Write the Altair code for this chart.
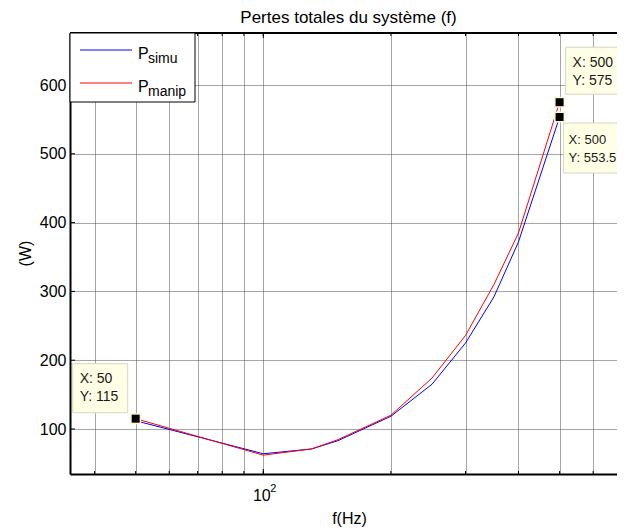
import altair as alt
import pandas as pd

# ---- data ----
freq = [50, 100, 130, 150, 200, 250, 300, 350, 400, 500]
p_simu = [112, 64, 71, 83, 118.5, 165, 225, 292, 372, 553.5]
p_manip = [115, 62, 71, 84.5, 120, 174, 236, 310, 385, 575]

x_ticks = [40, 50, 60, 70, 80, 90, 100, 200, 300, 400, 500, 600]
x_major = [100]
y_ticks = [100, 200, 300, 400, 500, 600]

tip_x = [50, 500, 500]
tip_y = [115, 575, 553.5]
tip_l1 = ["X: 50", "X: 500", "X: 500"]
tip_l2 = ["Y: 115", "Y: 575", "Y: 553.5"]

legend_main = ["P", "P"]
legend_sub = ["simu", "manip"]
legend_col = ["#0000ff", "#ff0000"]

title_txt = "Pertes totales du système (f)"
x_title = "f(Hz)"
y_title = "(W)"

W, H = 547, 441
FONT = "Liberation Sans"

xs = alt.Scale(type="log", domain=[35, 683], nice=False)
ys = alt.Scale(domain=[34.6, 675.6], nice=False, zero=False)

GRID = dict(grid=True, gridColor="#4d4d4d", gridDash=[1, 1], gridWidth=1)

x_axis = alt.Axis(values=x_ticks, labelExpr="datum.value == 100 ? '10' : ''",
                  ticks=False, domainColor="black", domainWidth=2,
                  labelFont=FONT, labelFontSize=16, labelColor="black",
                  labelPadding=13, labelOffset=-2, labelOverlap=False, labelFlush=False,
                  title=x_title, titleFont=FONT, titleFontSize=16,
                  titleFontWeight="normal", titleColor="black",
                  titleX=279, titleY=44, titleBaseline="middle", titleAlign="center",
                  **GRID)
y_axis = alt.Axis(values=y_ticks, ticks=False, domainColor="black", domainWidth=2,
                  labelFont=FONT, labelFontSize=16, labelColor="black",
                  labelPadding=4, labelFlush=False,
                  title=y_title, titleFont=FONT, titleFontSize=16,
                  titleFontWeight="normal", titleColor="black",
                  titleX=-45, titleY=220, titleAngle=-90,
                  titleBaseline="middle", titleAlign="center",
                  **GRID)

df_s = pd.DataFrame({"f": freq, "P": p_simu})
df_m = pd.DataFrame({"f": freq, "P": p_manip})

blue = alt.Chart(df_s).mark_line(color="#0000ff", strokeWidth=1, clip=True).encode(
    x=alt.X("f:Q", scale=xs, axis=x_axis),
    y=alt.Y("P:Q", scale=ys, axis=y_axis),
)
red = alt.Chart(df_m).mark_line(color="#ff0000", strokeWidth=1, clip=True).encode(
    x=alt.X("f:Q", scale=xs), y=alt.Y("P:Q", scale=ys))

one = pd.DataFrame({"k": [0]})
top_rule = alt.Chart(one).mark_rule(color="black", strokeWidth=2).encode(
    x=alt.value(0), x2=alt.value(W), y=alt.value(0))

# small inward ticks (MATLAB style)
xt_df = pd.DataFrame({"f": x_ticks})
xm_df = pd.DataFrame({"f": x_major})
yt_df = pd.DataFrame({"v": y_ticks})
tick_layers = [
    alt.Chart(xt_df).mark_rule(color="black", strokeWidth=1).encode(
        x=alt.X("f:Q", scale=xs), y=alt.value(H - 3), y2=alt.value(H)),
    alt.Chart(xt_df).mark_rule(color="black", strokeWidth=1).encode(
        x=alt.X("f:Q", scale=xs), y=alt.value(0), y2=alt.value(3)),
    alt.Chart(xm_df).mark_rule(color="black", strokeWidth=1).encode(
        x=alt.X("f:Q", scale=xs), y=alt.value(H - 5), y2=alt.value(H)),
    alt.Chart(xm_df).mark_rule(color="black", strokeWidth=1).encode(
        x=alt.X("f:Q", scale=xs), y=alt.value(0), y2=alt.value(5)),
    alt.Chart(yt_df).mark_rule(color="black", strokeWidth=1).encode(
        y=alt.Y("v:Q", scale=ys), x=alt.value(0), x2=alt.value(5)),
]

sup = alt.Chart(pd.DataFrame({"f": [100], "t": ["2"]})).mark_text(
    align="left", baseline="alphabetic", font=FONT, fontSize=11, color="black", dx=7
).encode(x=alt.X("f:Q", scale=xs), y=alt.value(H + 18), text="t:N")

# legend (drawn by hand for the subscripts)
leg_df = pd.DataFrame({"main": legend_main, "sub": legend_sub, "col": legend_col})
leg_box = alt.Chart(one).mark_rect(fill="white", stroke="black", strokeWidth=1).encode(
    x=alt.value(0), x2=alt.value(125), y=alt.value(0), y2=alt.value(69))
leg_layers = [leg_box]
for i in range(2):
    yy = 17 + 33 * i
    d = leg_df.iloc[[i]]
    leg_layers.append(alt.Chart(d).mark_rule(color=legend_col[i], strokeWidth=1).encode(
        x=alt.value(10), x2=alt.value(62), y=alt.value(yy)))
    leg_layers.append(alt.Chart(d).mark_text(align="left", baseline="alphabetic", font=FONT,
                                             fontSize=16, color="black").encode(
        x=alt.value(68), y=alt.value(yy + 9), text="main:N"))
    leg_layers.append(alt.Chart(d).mark_text(align="left", baseline="alphabetic", font=FONT,
                                             fontSize=14, color="black").encode(
        x=alt.value(78), y=alt.value(yy + 13), text="sub:N"))

# data tips
tip_df = pd.DataFrame({"f": tip_x, "v": tip_y, "l1": tip_l1, "l2": tip_l2})
tip_geom = [
    dict(bx=(-63, -8), by=(-55, -6), tx=-56, ty=(-40, -22), fs=14),
    dict(bx=(6, 60), by=(-55, -8), tx=13, ty=(-39, -21), fs=14),
    dict(bx=(4, 80), by=(6, 56), tx=9, ty=(23, 41), fs=13),
]
tip_layers = []
for i, g in enumerate(tip_geom):
    d = tip_df.iloc[[i]]
    enc = dict(x=alt.X("f:Q", scale=xs), y=alt.Y("v:Q", scale=ys))
    tip_layers.append(alt.Chart(d).mark_rect(
        fill="#ffffe6", stroke="#d6d6c2", strokeWidth=1,
        xOffset=g["bx"][0], x2Offset=g["bx"][1], yOffset=g["by"][0], y2Offset=g["by"][1]
    ).encode(x2="f:Q", y2="v:Q", **enc))
    tip_layers.append(alt.Chart(d).mark_text(align="left", baseline="middle", font=FONT,
                                             fontSize=g["fs"], color="#1a1a1a",
                                             dx=g["tx"], dy=g["ty"][0]).encode(text="l1:N", **enc))
    tip_layers.append(alt.Chart(d).mark_text(align="left", baseline="middle", font=FONT,
                                             fontSize=g["fs"], color="#1a1a1a",
                                             dx=g["tx"], dy=g["ty"][1]).encode(text="l2:N", **enc))

halo = alt.Chart(tip_df).mark_square(size=121, color="#fbf6d3", opacity=1).encode(
    x=alt.X("f:Q", scale=xs), y=alt.Y("v:Q", scale=ys))
mark = alt.Chart(tip_df).mark_square(size=64, color="black", opacity=1).encode(
    x=alt.X("f:Q", scale=xs), y=alt.Y("v:Q", scale=ys))

chart = alt.layer(
    blue, red, top_rule, *tick_layers, sup, *leg_layers, *tip_layers, halo, mark
).properties(
    width=W, height=H,
    title=alt.TitleParams(title_txt, font=FONT, fontSize=17, fontWeight="normal",
                          color="black", anchor="middle", frame="group",
                          baseline="alphabetic", offset=12, dx=5, dy=20),
    autosize=alt.AutoSizeParams(type="none"),
    padding={"left": 62, "top": 25, "right": 0, "bottom": 55},
).configure_view(strokeOpacity=0).configure(background="white")

chart.save("out.html", embed_options={"renderer": "svg", "actions": False})
